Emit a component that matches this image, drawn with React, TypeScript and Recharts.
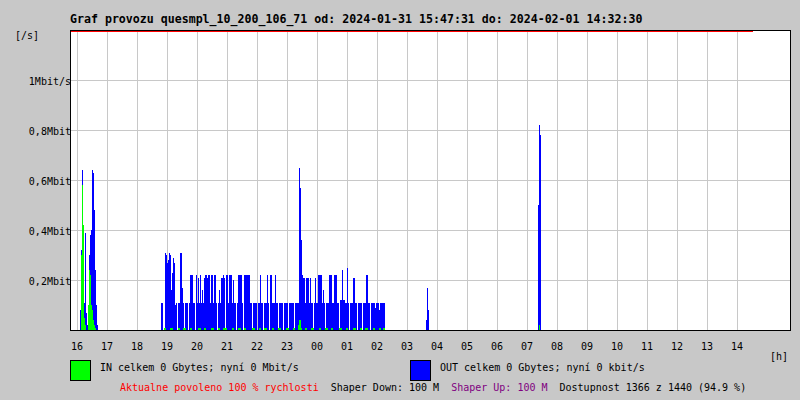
import React from "react";
import {
  ComposedChart,
  Area,
  XAxis,
  YAxis,
  CartesianGrid,
  ReferenceLine,
  ReferenceArea,
} from "recharts";

// ---------- texts ----------
const TITLE =
  "Graf provozu quesmpl_10_200_106_71 od: 2024-01-31 15:47:31 do: 2024-02-01 14:32:30";
const IN_TEXT = "IN celkem 0 Gbytes; nyní 0 Mbit/s";
const OUT_TEXT = "OUT celkem 0 Gbytes; nyní 0 kbit/s";
const STATUS_RED = "Aktualne povoleno 100 % rychlosti";
const STATUS_DOWN = "Shaper Down: 100 M";
const STATUS_UP = "Shaper Up: 100 M";
const STATUS_AVAIL = "Dostupnost 1366 z 1440 (94.9 %)";

// ---------- axes ----------
const hourLabels = [
  "16", "17", "18", "19", "20", "21", "22", "23", "00", "01", "02", "03",
  "04", "05", "06", "07", "08", "09", "10", "11", "12", "13", "14",
];
const yTickValues = [0.2, 0.4, 0.6, 0.8, 1.0];
const yTickLabels = ["0,2Mbit", "0,4Mbit", "0,6Mbit", "0,8Mbit", "1Mbit/s"];
const yMax = 1.2;

const periodStart = "15:46"; // left edge of the 24 h window
const dataEnd = "14:32"; // end of measured period (red line)
const slotMinutes = 2;

// ---------- traffic (Mbit/s), one value per 2-minute slot ----------
const burst1Start = "16:06";
const burst1Out = [
  0.08, 0.32, 0.64, 0.4, 0.11, 0.39, 0.07, 0.02, 0.1, 0.3, 0.38, 0.4, 0.64,
  0.63, 0.48, 0.24, 0.1, 0.02,
];
const burst1In = [
  0, 0.3, 0.58, 0.42, 0.05, 0.02, 0, 0, 0.1, 0.24, 0.22, 0.1, 0.08, 0.04, 0.02,
  0.01, 0, 0,
];

const burst2Start = "18:48";
const burst2Out = [
  0.11, 0.11, 0, 0, 0.31, 0.3, 0.27, 0.28, 0.31, 0.3,
  0.16, 0.23, 0.29, 0.27, 0.1, 0.11, 0, 0.11, 0.11, 0.31,
  0.31, 0.17, 0.11, 0, 0.11, 0.11, 0.11, 0, 0.11, 0.22,
  0.22, 0.22, 0.11, 0.11, 0, 0.22, 0.11, 0.21, 0.11, 0.22,
  0.11, 0.16, 0.11, 0.21, 0.22, 0.22, 0.21, 0.22, 0.22, 0.11,
  0.22, 0.22, 0.11, 0.22, 0.22, 0.11, 0, 0.11, 0.16, 0.11,
  0.21, 0.21, 0.22, 0.21, 0, 0.22, 0.22, 0.11, 0.22, 0.22,
  0.22, 0.11, 0.2, 0.11, 0.11, 0, 0.11, 0.22, 0.22, 0.22,
  0.22, 0.11, 0, 0.22, 0.22, 0.22, 0.22, 0.22, 0.22, 0.11,
  0.11, 0, 0.11, 0.11, 0.11, 0.11, 0, 0.11, 0.11, 0.22,
  0.11, 0.11, 0, 0.11, 0.11, 0.11, 0.22, 0.11, 0, 0.22,
  0.22, 0.11, 0.11, 0.11, 0.22, 0.11, 0.11, 0, 0.11, 0.11,
  0.11, 0.11, 0, 0.11, 0.11, 0.11, 0.11, 0, 0.11, 0.11,
  0.11, 0.11, 0.11, 0, 0.11, 0.11, 0.11, 0.11, 0.65, 0.57,
  0.36, 0.22, 0.21, 0.21, 0.11, 0.21, 0.21, 0.21, 0.11, 0.21,
  0.11, 0.11, 0, 0.11, 0.21, 0.11, 0.11, 0.22, 0.22, 0.22,
  0.22, 0.11, 0.16, 0.11, 0, 0.11, 0.11, 0.11, 0.22, 0.22,
  0.22, 0.11, 0.11, 0.22, 0.22, 0.22, 0.11, 0.11, 0, 0.12,
  0.12, 0.24, 0.12, 0.12, 0.11, 0.11, 0.25, 0.11, 0, 0.11,
  0.11, 0.11, 0.21, 0.21, 0.11, 0.11, 0, 0.11, 0.11, 0.11,
  0.11, 0, 0.11, 0.11, 0.11, 0.22, 0.22, 0.11, 0.11, 0,
  0.11, 0.11, 0.11, 0.11, 0.09, 0.11, 0.11, 0.11, 0.08, 0.11,
  0.11, 0.11, 0.11, 0.11,
];
// [value, number of slots]
const burst2InRuns: [number, number][] = [
  [0, 3], [0.008, 2], [0, 4], [0.008, 3], [0, 5], [0.008, 2], [0, 3], [0.008, 3],
  [0, 4], [0.008, 2], [0, 6], [0.008, 3], [0, 3], [0.008, 2], [0, 5], [0.008, 3],
  [0, 4], [0.008, 2], [0, 3], [0.008, 4], [0, 5], [0.008, 2], [0, 4], [0.008, 3],
  [0, 3], [0.008, 2], [0, 6], [0.008, 3], [0, 4], [0.008, 2], [0, 3], [0.008, 3],
  [0, 5], [0.008, 2], [0, 4], [0.008, 3], [0, 5], [0.008, 3], [0, 4], [0.008, 2],
  [0, 3],
  [0.02, 1], [0.04, 2], [0.01, 1],
  [0, 3], [0.008, 2], [0, 4], [0.008, 3], [0, 5], [0.008, 2], [0, 4], [0.008, 3],
  [0, 3], [0.008, 2], [0, 6], [0.008, 3], [0, 4], [0.008, 2], [0, 5], [0.008, 3],
  [0, 4], [0.008, 2], [0, 3], [0.008, 3], [0, 5], [0.008, 2], [0, 4], [0.008, 2],
  [0, 2], [0.008, 2],
];

const burst3Start = "03:38";
const burst3Out = [0.04, 0.17, 0.08];
const burst3In = [0, 0, 0];

const burst4Start = "07:22";
const burst4Out = [0.5, 0.82, 0.78];
const burst4In = [0, 0.02, 0];

// ---------- build table ----------
const hm = (s: string) => {
  const [h, m] = s.split(":").map(Number);
  return h * 60 + m;
};
const START = hm(periodStart);
const END = START + 24 * 60;
const toT = (s: string) => {
  let v = hm(s);
  if (v < START) v += 24 * 60;
  return v;
};
const expandRuns = (runs: [number, number][]) => {
  const out: number[] = [];
  runs.forEach(([v, n]) => {
    for (let k = 0; k < n; k++) out.push(v);
  });
  return out;
};

type Row = { t: number; out: number; inn: number };
const data: Row[] = [];
for (let t = START; t <= END; t += slotMinutes) data.push({ t, out: 0, inn: 0 });
const place = (start: string, outVals: number[], inVals: number[]) => {
  const i0 = (toT(start) - START) / slotMinutes;
  outVals.forEach((v, k) => {
    if (data[i0 + k]) data[i0 + k].out = v;
  });
  inVals.forEach((v, k) => {
    if (data[i0 + k]) data[i0 + k].inn = v;
  });
};
place(burst1Start, burst1Out, burst1In);
place(burst2Start, burst2Out, expandRuns(burst2InRuns));
place(burst3Start, burst3Out, burst3In);
place(burst4Start, burst4Out, burst4In);

const hourTicks = hourLabels.map((_, i) => toT("16:00") + i * 60);

const FONT = "'DejaVu Sans Mono', 'Liberation Mono', monospace";

const XTick = (props: any) => {
  const { x, y, payload } = props;
  const idx = hourTicks.indexOf(payload.value);
  return (
    <text x={x} y={y + 20} textAnchor="middle" fontFamily={FONT} fontSize={10} fill="#000">
      {hourLabels[idx]}
    </text>
  );
};
const YTick = (props: any) => {
  const { x, y, payload } = props;
  const idx = yTickValues.indexOf(payload.value);
  return (
    <text x={x + 1} y={y + 5} textAnchor="end" fontFamily={FONT} fontSize={10} fill="#000">
      {yTickLabels[idx]}
    </text>
  );
};

export default function App() {
  return (
    <div
      style={{
        position: "absolute",
        left: 0,
        top: 0,
        width: 800,
        height: 400,
        background: "#c8c8c8",
        shapeRendering: "crispEdges",
      }}
    >
      <ComposedChart
        width={800}
        height={400}
        data={data}
        margin={{ top: 30, right: 10, bottom: 0, left: 10 }}
      >
        <CartesianGrid
          fill="#ffffff"
          stroke="#c8c8c8"
          strokeDasharray=""
          horizontalValues={yTickValues}
          verticalValues={hourTicks}
        />
        <XAxis
          dataKey="t"
          type="number"
          domain={[START, END]}
          ticks={hourTicks}
          interval={0}
          height={70}
          tickLine={false}
          tickSize={0}
          tickMargin={0}
          axisLine={{ stroke: "#000" }}
          tick={<XTick />}
          allowDataOverflow
        />
        <YAxis
          type="number"
          domain={[0, yMax]}
          ticks={yTickValues}
          interval={0}
          width={60}
          tickLine={false}
          tickSize={0}
          tickMargin={0}
          axisLine={{ stroke: "#000" }}
          tick={<YTick />}
          allowDataOverflow
        />
        <Area
          dataKey="out"
          type="stepAfter"
          stroke="none"
          fill="#0000ff"
          fillOpacity={1}
          dot={false}
          activeDot={false}
          isAnimationActive={false}
        />
        <Area
          dataKey="inn"
          type="stepAfter"
          stroke="none"
          fill="#00ff00"
          fillOpacity={1}
          dot={false}
          activeDot={false}
          isAnimationActive={false}
        />
        <ReferenceLine
          segment={[
            { x: START, y: yMax - 0.004 },
            { x: toT(dataEnd), y: yMax - 0.004 },
          ]}
          stroke="#ff0000"
          strokeWidth={1}
        />
        <ReferenceArea
          x1={START}
          x2={END}
          y1={0}
          y2={yMax}
          fill="none"
          stroke="#000"
          strokeWidth={1}
        />
      </ComposedChart>
      <svg
        width={800}
        height={400}
        style={{ position: "absolute", left: 0, top: 0, pointerEvents: "none" }}
        fontFamily={FONT}
      >
        <text x={70} y={23} fontSize={11.6} fontWeight="bold" fill="#000">
          {TITLE}
        </text>
        <text x={15} y={39} fontSize={10} fill="#000">
          [/s]
        </text>
        <text x={770} y={360} fontSize={10} fill="#000">
          [h]
        </text>
        <rect x={70.5} y={360.5} width={20} height={20} fill="#00ff00" stroke="#000" />
        <text x={100} y={371} fontSize={10} fill="#000">
          {IN_TEXT}
        </text>
        <rect x={410.5} y={360.5} width={20} height={20} fill="#0000ff" stroke="#000" />
        <text x={440} y={371} fontSize={10} fill="#000">
          {OUT_TEXT}
        </text>
        <text x={120} y={391} fontSize={10} xmlSpace="preserve">
          <tspan fill="#ff0000">{STATUS_RED}</tspan>
          <tspan fill="#000">{"  " + STATUS_DOWN}</tspan>
          <tspan fill="#800080">{"  " + STATUS_UP}</tspan>
          <tspan fill="#000">{"  " + STATUS_AVAIL}</tspan>
        </text>
      </svg>
    </div>
  );
}
